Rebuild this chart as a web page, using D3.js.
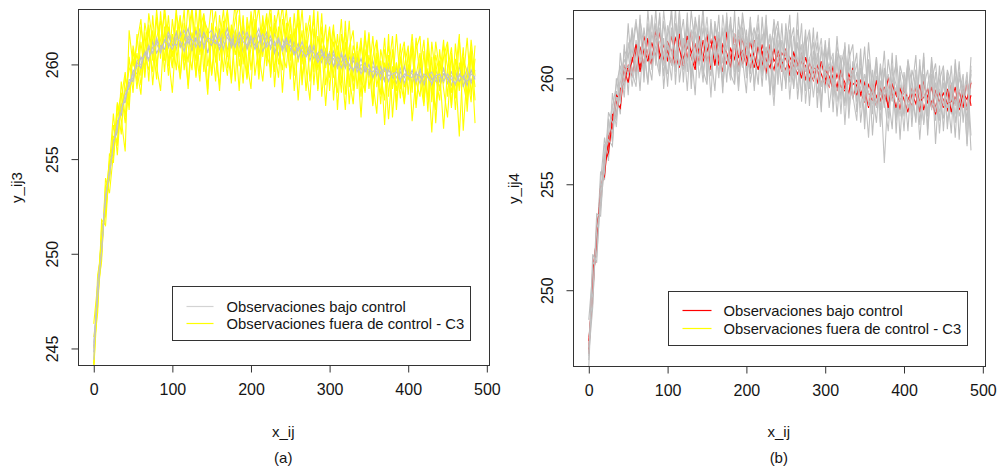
<!DOCTYPE html>
<html>
<head>
<script src="https://d3js.org/d3.v7.min.js"></script>
<style>
  body { margin: 0; background: #fff; }
  svg text { font-family: "Liberation Sans", Arial, sans-serif; fill: #151515; }
</style>
</head>
<body>
<script>
// x positions of the observations (every 5th index)
var xVals = d3.range(0, 486, 5);
var xTicks = [0, 100, 200, 300, 400, 500];

// ---- panel (a): y_ij3 ----
var aTicks = [245, 250, 255, 260];
var aYellow1 = [244.2,248.9,250.1,253.6,253.9,256.8,255.7,259.1,257.2,260.4,
 258.5,261.6,259.4,262.2,260.9,259.6,262.5,260.3,263.1,261.0,
 259.8,262.7,261.4,260.2,263.2,260.7,262.0,259.5,262.6,261.3,
 263.3,260.1,261.9,259.6,262.8,260.9,262.4,263.1,260.0,262.2,
 259.7,261.8,263.0,260.4,262.5,259.3,261.7,262.9,260.6,259.8,
 262.3,260.5,262.8,259.2,261.4,262.6,258.9,261.5,260.2,262.1,
 258.6,261.2,260.0,262.4,258.4,260.9,261.8,258.7,261.1,259.6,
 261.7,257.9,260.6,259.2,261.4,258.3,260.8,257.6,260.3,261.2,
 258.4,260.9,257.9,259.8,261.3,258.1,260.4,256.9,260.2,259.0,
 261.1,257.8,260.3,258.6,260.9,257.5,260.6,258.8];
var aYellow2 = [245.6,247.2,251.4,252.0,255.3,254.8,257.9,256.3,259.4,258.0,
 260.8,258.7,261.2,259.3,261.9,258.9,261.4,262.3,259.6,262.0,
 260.4,263.0,259.2,261.6,260.1,262.9,259.3,261.8,262.7,259.9,
 261.4,259.1,262.6,260.8,259.4,262.1,260.5,261.7,259.0,262.5,
 261.1,263.2,259.6,261.9,260.3,262.7,258.8,261.5,263.1,260.7,
 261.6,259.4,263.3,260.0,262.2,259.1,261.3,258.7,262.0,259.8,
 261.9,259.5,258.5,261.6,259.9,262.3,258.6,260.4,257.2,260.8,
 259.3,261.5,258.8,260.2,256.8,260.5,258.9,261.6,259.1,258.0,
 260.7,258.5,261.4,259.3,257.8,260.6,258.4,261.2,259.6,256.6,
 259.7,260.9,258.2,261.3,259.0,257.9,260.7,256.9];
var aYellow3 = [243.9,247.6,249.9,253.0,254.9,255.1,257.3,258.5,256.9,258.7,
 259.2,260.6,258.9,260.8,262.1,260.2,262.9,260.6,261.7,259.4,
 262.4,260.6,259.3,262.2,261.0,259.7,263.0,260.5,262.1,258.7,
 261.6,262.8,260.2,262.3,259.8,261.2,263.3,259.9,261.5,260.8,
 262.6,259.4,261.0,262.3,259.9,262.0,260.8,259.3,262.4,261.1,
 259.6,262.7,260.1,261.8,258.6,260.9,262.4,259.7,261.0,257.8,
 260.7,259.3,261.6,259.0,261.2,257.9,260.6,259.8,261.4,258.5,
 260.5,259.1,257.4,260.8,259.6,261.0,258.7,260.1,258.2,260.9,
 259.2,261.2,257.7,260.3,258.9,261.0,258.0,260.5,259.4,261.3,
 258.3,260.6,257.6,260.1,259.2,261.4,258.4,260.3];
var aYellow4 = [246.3,248.4,250.9,252.2,254.1,256.2,256.0,257.8,258.6,259.7,
 260.3,259.1,262.0,260.4,259.7,261.8,260.0,261.3,262.7,259.9,
 261.6,259.7,262.4,260.9,258.9,261.7,260.2,262.8,259.6,261.9,
 259.4,261.3,258.6,261.9,260.6,259.2,261.8,260.4,262.6,259.3,
 260.9,262.1,259.2,261.4,262.7,259.5,262.2,260.0,261.4,262.9,
 260.2,261.9,258.1,261.0,260.5,262.1,259.6,262.8,258.3,260.6,
 262.0,258.1,261.0,260.0,257.6,260.9,259.1,261.2,258.9,261.8,
 258.7,260.4,261.3,258.4,260.1,257.1,259.9,258.6,261.1,257.9,
 260.0,258.8,260.8,261.5,258.2,259.8,256.4,260.1,258.6,260.4,
 261.2,258.5,259.7,256.2,260.4,259.5,258.0,261.0];
var aYellow5 = [245.0,246.9,251.8,251.5,254.7,257.4,255.2,258.2,259.6,257.6,
 261.0,259.7,258.4,261.7,259.1,262.6,259.9,258.6,262.0,260.4,
 258.5,261.8,260.9,262.9,258.7,261.2,259.4,263.3,260.6,258.4,
 262.2,260.3,258.9,261.7,262.9,259.0,261.6,258.6,262.3,260.1,
 258.7,262.4,260.6,259.1,261.5,263.2,259.6,262.0,258.5,261.6,
 262.5,258.6,260.8,262.9,259.8,258.1,261.9,260.0,262.7,258.9,
 260.5,262.1,257.6,260.6,261.7,259.3,257.9,260.7,258.3,261.5,
 260.0,257.8,261.2,259.5,258.1,261.6,257.2,260.1,258.7,259.9,
 261.0,257.0,259.4,260.6,258.0,261.4,259.2,257.6,260.8,258.7,
 257.2,260.3,259.5,261.6,256.5,259.6,260.9,258.1];
var aYellow6 = [244.0,248.1,249.6,254.0,253.2,255.3,258.0,257.1,255.4,261.8,
 259.9,261.1,262.4,259.6,262.7,261.2,259.2,262.8,260.2,262.6,
 259.9,261.3,262.6,259.7,261.6,263.0,260.8,259.1,262.4,261.8,
 259.5,262.0,261.2,262.9,260.4,261.9,259.1,262.6,260.9,259.2,
 262.8,261.2,259.9,262.6,260.5,259.8,262.6,261.0,259.7,262.2,
 259.2,261.5,262.2,258.9,261.3,260.4,262.9,258.6,261.4,260.7,
 259.3,261.8,260.6,258.5,262.3,258.8,261.0,260.1,259.2,258.6,
 261.6,259.2,260.3,257.9,260.8,259.7,261.5,258.0,260.4,258.8,
 259.5,261.6,259.1,258.3,260.7,257.5,261.2,259.3,258.1,261.0,
 259.9,257.7,261.1,258.9,260.2,258.3,261.3,259.4];
var aGray1 = [244.8,248.2,250.8,252.4,254.6,255.4,257.0,257.3,258.6,258.7,
 259.7,259.5,260.4,259.9,260.9,260.5,261.3,260.7,261.6,260.9,
 261.5,260.8,261.7,261.0,261.4,260.7,261.8,261.1,261.5,260.6,
 261.6,260.9,261.8,261.2,260.8,261.7,261.0,261.4,260.7,261.5,
 260.9,261.6,260.6,261.3,261.7,260.8,261.2,260.5,261.4,260.7,
 261.3,260.6,261.1,260.4,261.0,260.2,260.9,260.5,260.1,260.8,
 260.2,260.7,259.9,260.5,259.8,260.4,259.6,260.3,259.7,260.1,
 259.5,260.2,259.4,259.9,259.2,260.0,259.3,259.8,259.1,259.9,
 259.2,259.7,259.0,259.8,259.3,259.6,258.9,259.7,259.1,259.8,
 259.0,259.6,259.2,259.9,258.8,259.5,259.1,259.7];
var aGray2 = [245.1,247.7,250.3,252.9,254.0,256.0,256.4,257.9,258.0,259.2,
 259.1,260.1,259.8,260.7,260.2,261.2,260.6,261.0,260.8,261.5,
 261.0,261.7,260.9,261.3,261.9,261.0,261.4,260.9,261.7,261.2,
 261.0,261.6,260.8,261.4,261.9,260.9,261.5,261.1,261.8,260.8,
 261.4,261.0,261.6,260.7,261.1,261.5,260.6,261.3,260.9,261.4,
 260.7,261.2,260.3,260.9,260.6,261.0,260.3,260.6,260.8,260.2,
 260.6,259.9,260.4,260.1,260.5,259.7,260.2,259.8,260.3,259.6,
 260.0,259.3,259.8,259.6,259.1,259.7,259.4,259.0,259.6,259.3,
 259.8,259.0,259.5,259.4,258.9,259.6,259.2,259.4,258.8,259.5,
 259.3,258.9,259.6,259.1,259.4,258.9,259.7,259.2];
var aGray3 = [244.4,248.5,250.1,253.1,254.2,255.8,256.9,257.5,258.4,258.8,
 259.6,259.9,260.0,260.6,260.3,260.9,261.1,260.6,261.3,261.1,
 260.8,261.4,261.2,260.7,261.5,261.3,260.9,261.6,261.0,261.4,
 261.3,261.1,261.5,260.8,261.6,261.3,260.9,261.7,261.2,261.0,
 261.5,260.8,261.2,261.6,260.9,261.3,261.0,261.4,260.8,261.1,
 261.0,260.5,260.9,260.7,260.4,260.8,260.6,260.1,260.5,260.4,
 260.0,260.5,260.2,259.8,260.3,260.0,259.7,260.1,259.5,259.9,
 259.7,259.6,259.9,259.2,259.8,259.4,259.5,259.6,259.2,259.5,
 259.4,259.3,259.6,259.0,259.5,259.3,259.0,259.4,259.5,259.1,
 259.5,259.2,259.0,259.4,259.3,259.1,259.5,259.3];
var aGray4 = [245.3,247.9,250.9,252.7,254.4,255.9,256.5,257.8,258.1,259.0,
 259.3,260.2,260.3,260.4,261.0,260.6,261.4,260.8,261.2,261.7,
 261.2,261.0,261.5,261.8,261.1,261.6,261.2,261.9,260.8,261.6,
 261.8,261.2,261.0,261.7,261.4,261.1,261.8,260.9,261.4,261.7,
 261.1,261.4,261.9,261.0,261.5,260.9,261.6,261.2,260.7,261.3,
 260.8,261.0,260.7,261.2,260.5,260.6,261.0,260.3,260.7,260.0,
 260.4,260.3,259.8,260.6,260.0,259.9,260.4,259.6,260.0,259.8,
 259.4,259.9,259.6,259.5,259.9,259.1,259.7,259.3,259.8,259.0,
 259.6,259.5,259.1,259.7,259.0,259.4,259.6,259.1,259.3,259.7,
 259.2,259.4,258.9,259.5,259.2,259.8,259.0,259.4];

// ---- panel (b): y_ij4 ----
var bTicks = [250, 255, 260];
var bGray1 = [246.4,250.6,252.0,255.6,255.2,258.1,257.0,259.4,258.3,261.6,
 259.2,262.4,260.0,263.0,259.8,262.6,260.5,263.3,260.2,262.7,
 260.9,263.4,259.7,262.5,260.4,263.1,259.5,262.2,261.0,263.4,
 259.9,262.8,260.6,262.0,259.3,262.9,260.1,263.2,259.6,262.4,
 260.3,262.9,259.4,262.1,260.7,263.0,259.2,261.9,260.0,262.6,
 259.5,262.3,260.1,263.1,258.9,261.8,259.7,262.4,258.6,261.5,
 259.3,261.9,258.4,261.2,259.0,261.7,258.1,260.8,258.9,261.4,
 257.6,260.9,258.3,261.0,257.9,260.5,258.5,261.2,257.4,260.3,
 258.2,260.8,257.7,260.4,258.4,261.0,257.3,260.2,258.0,260.6,
 257.5,260.1,258.3,260.7,257.1,260.0,256.8,260.4];
var bGray2 = [247.8,249.4,253.1,254.0,256.9,256.3,258.6,259.7,260.6,259.1,
 261.7,260.3,259.6,262.1,261.3,259.8,262.9,261.0,260.1,263.2,
 261.4,259.9,262.6,260.6,261.9,259.4,262.3,260.8,263.0,260.2,
 261.7,259.1,262.5,261.2,259.8,263.1,260.5,261.6,259.4,262.0,
 261.1,262.8,259.6,261.4,260.2,262.7,260.9,258.7,261.8,260.3,
 262.2,259.0,261.3,260.4,262.6,258.8,260.9,261.7,259.3,260.5,
 261.6,258.6,260.2,259.4,261.1,257.8,260.7,259.2,258.0,260.9,
 259.6,257.2,260.4,258.7,259.9,256.0,259.5,260.6,258.3,259.7,
 257.5,260.5,259.0,258.1,260.9,257.8,259.6,258.7,260.3,257.4,
 259.8,258.6,260.6,257.9,259.3,260.2,256.9,259.9];
var bGray3 = [246.9,251.2,251.6,254.3,256.5,257.4,258.8,257.7,260.2,260.9,
 260.1,261.5,262.8,260.7,261.6,262.2,260.4,262.0,261.7,260.6,
 262.5,261.2,260.3,262.8,261.5,260.8,261.9,262.7,260.0,261.3,
 262.9,260.6,261.8,260.2,262.4,261.0,259.9,262.1,261.3,260.5,
 262.0,260.8,261.5,263.0,260.1,261.2,262.0,259.8,260.9,261.7,
 260.0,262.1,260.7,259.5,261.6,260.3,261.0,259.1,260.8,261.9,
 259.4,260.6,261.2,258.9,260.1,260.8,258.5,259.9,260.7,258.6,
 260.2,259.3,258.8,260.6,257.7,259.4,260.2,258.9,259.6,258.2,
 260.1,259.0,258.6,260.4,259.2,257.9,259.7,260.5,258.4,259.5,
 258.7,260.3,259.1,258.3,260.0,259.4,257.6,260.6];
var bGray4 = [247.3,249.9,252.8,253.9,255.9,257.9,257.4,259.1,259.0,260.3,
 261.2,259.6,261.0,262.3,260.4,261.1,263.0,260.6,262.4,261.1,
 260.2,262.4,261.0,263.2,260.6,261.8,260.1,262.2,261.4,262.9,
 260.4,262.3,261.7,260.0,263.0,261.3,262.6,260.3,261.9,262.8,
 260.0,261.7,262.4,260.6,262.1,259.9,261.3,262.5,259.7,261.8,
 261.2,259.8,262.0,260.9,259.2,261.5,262.3,259.9,261.2,259.6,
 260.4,261.7,259.1,260.9,258.3,261.3,259.7,260.4,259.3,261.0,
 258.1,260.8,259.8,258.6,260.7,259.0,257.5,260.3,259.7,258.9,
 259.4,260.8,258.2,259.9,257.1,259.6,260.4,258.5,259.8,258.0,
 260.5,257.9,259.3,260.1,258.2,259.0,260.3,257.3];
var bGray5 = [248.6,250.9,252.4,255.1,257.2,256.1,259.3,258.0,261.2,259.5,
 262.6,260.0,261.8,259.4,262.4,260.9,259.9,262.6,260.3,261.9,
 259.6,262.3,260.9,263.1,259.8,262.5,261.3,259.2,262.7,260.4,
 259.7,262.6,260.9,263.0,259.6,261.4,262.9,259.8,262.3,260.9,
 259.3,262.5,261.1,259.7,262.9,260.5,262.1,259.2,262.4,260.6,
 259.8,261.6,262.4,259.0,261.0,262.0,258.7,261.3,260.6,258.4,
 261.8,259.6,261.0,258.2,260.6,261.5,258.8,260.2,261.2,257.9,
 259.7,260.8,257.3,260.1,259.2,261.3,258.1,259.8,260.7,257.1,
 260.3,258.6,259.4,261.1,257.8,260.2,258.3,260.8,256.9,259.9,
 260.6,257.6,259.8,258.7,260.8,257.9,260.1,256.6];
var bGray6 = [246.7,251.7,251.3,254.8,255.6,258.4,257.9,258.2,259.8,260.6,
 260.5,261.1,262.6,261.3,260.2,263.2,260.9,261.5,262.9,260.1,
 262.1,263.0,260.5,261.6,262.8,260.3,263.2,261.4,260.6,262.4,
 261.0,260.1,262.7,261.5,262.2,259.8,262.5,261.9,260.3,263.1,
 261.6,260.2,262.3,261.8,259.6,262.4,260.7,262.8,261.2,259.4,
 262.6,260.8,259.6,262.3,261.1,259.4,262.2,260.4,261.7,259.7,
 260.1,261.4,259.2,262.0,259.6,258.9,261.6,259.0,260.3,259.4,
 261.5,258.7,259.5,261.0,258.5,260.4,259.2,257.6,261.1,259.0,
 258.3,260.9,259.7,257.9,260.6,259.4,258.2,261.0,259.1,258.4,
 260.1,259.3,257.4,260.9,258.6,259.7,258.0,261.0];
var bGray7 = [247.0,249.2,253.6,253.5,256.4,257.1,256.8,260.0,258.8,261.3,
 261.0,262.3,259.9,262.8,261.5,259.7,262.2,260.8,263.1,259.5,
 261.7,260.6,263.3,259.8,261.4,262.6,260.0,262.9,261.7,259.8,
 262.4,261.2,259.4,262.2,260.7,262.7,260.2,259.7,262.9,261.0,
 262.3,259.8,261.0,262.6,260.3,261.5,259.3,261.9,262.7,260.8,
 261.1,263.0,259.5,261.7,260.2,262.3,259.5,260.9,262.2,258.8,
 261.2,260.5,259.7,261.5,260.7,258.7,260.9,261.6,258.4,260.5,
 258.9,261.7,259.4,257.9,260.5,258.6,260.9,259.5,258.0,260.6,
 259.8,257.5,260.4,259.6,258.7,261.2,257.6,259.9,260.7,258.8,
 258.1,260.4,259.7,257.2,260.3,259.2,258.5,260.2];
var bRed1 = [247.2,250.3,252.2,254.9,255.4,257.3,257.6,258.9,258.6,260.4,
 259.8,261.0,260.2,261.5,260.6,261.9,260.7,262.1,260.9,261.6,
 260.8,262.0,261.1,260.5,261.8,260.9,262.2,260.6,261.5,261.0,
 262.1,260.4,261.7,261.0,260.3,262.2,260.9,261.6,260.5,261.9,
 261.0,260.4,261.8,260.7,261.3,260.2,261.6,260.8,261.1,260.3,
 261.4,260.1,260.9,260.5,261.2,259.9,260.7,260.3,259.8,260.8,
 260.0,259.6,260.6,259.4,260.2,259.8,259.3,260.5,259.2,259.9,
 259.5,258.6,259.8,259.1,259.6,258.8,260.1,259.0,259.4,258.5,
 259.7,258.9,259.5,259.2,258.4,259.9,258.8,259.6,258.6,259.3,
 259.0,258.5,259.7,258.8,259.4,258.6,259.9,258.7];
var bRed2 = [247.6,249.8,252.9,254.2,256.2,256.8,258.3,258.2,259.5,259.8,
 260.6,260.1,261.4,260.5,262.0,261.1,260.6,262.3,261.2,260.7,
 261.7,261.3,260.6,262.1,260.9,261.5,261.0,260.4,262.0,260.8,
 261.3,261.8,260.6,262.0,261.2,260.7,261.4,260.9,262.0,260.6,
 261.6,261.1,260.5,261.5,260.6,261.4,260.9,260.4,261.3,260.8,
 260.4,261.0,260.6,260.2,260.8,260.6,259.9,260.5,260.4,259.7,
 260.4,260.1,259.5,260.2,259.6,259.4,260.0,259.1,259.7,259.3,
 258.9,259.7,259.3,258.7,259.5,259.2,258.8,259.3,258.6,259.5,
 259.0,258.4,259.3,258.8,259.7,258.5,259.2,258.9,258.3,259.4,
 258.6,259.5,258.4,259.1,258.8,259.6,258.5,259.2];
var bRed3 = [247.0,250.8,252.5,254.5,256.0,256.5,258.0,259.2,259.0,260.6,
 260.3,260.8,261.6,260.3,261.4,260.8,261.7,261.0,262.2,260.9,
 261.3,260.7,261.9,261.4,260.6,262.0,261.2,261.6,260.7,261.8,
 260.8,261.5,262.0,260.6,261.6,261.2,260.5,262.1,261.0,261.3,
 260.6,261.7,261.0,260.4,261.6,260.9,260.5,261.4,260.6,261.2,
 260.9,260.5,261.2,260.7,260.0,261.0,260.3,259.9,260.6,260.2,
 259.7,260.5,260.0,259.6,260.4,259.5,260.2,259.7,259.9,259.2,
 259.8,259.3,258.9,259.9,258.9,259.6,258.6,259.7,259.2,258.9,
 259.4,259.1,258.7,259.6,258.9,259.1,259.5,258.6,259.4,258.9,
 259.3,258.8,258.9,259.6,258.5,259.3,259.0,259.8];

var legendLabels = ["Observaciones bajo control", "Observaciones fuera de control - C3"];

var svg = d3.select("body").append("svg")
  .attr("width", 999).attr("height", 468);

function drawPanel(p) {
  var x = d3.scaleLinear().domain([-19.4, 503.4]).range([p.left, p.right]);
  var y = d3.scaleLinear().domain(p.yDomain).range([p.bottom, p.top]);
  var g = svg.append("g");

  g.append("clipPath").attr("id", p.id + "clip")
    .append("rect").attr("x", p.left).attr("y", p.top)
    .attr("width", p.right - p.left).attr("height", p.bottom - p.top);

  var line = d3.line()
    .x(function(d, i) { return x(xVals[i]); })
    .y(function(d) { return y(d); });

  var lines = g.append("g").attr("clip-path", "url(#" + p.id + "clip)");
  p.layers.forEach(function(s) {
    lines.append("path")
      .attr("d", line(s.data))
      .attr("fill", "none")
      .attr("stroke", s.color)
      .attr("stroke-width", 1.1);
  });

  // box
  g.append("rect").attr("x", p.left).attr("y", p.top)
    .attr("width", p.right - p.left).attr("height", p.bottom - p.top)
    .attr("fill", "none").attr("stroke", "#333").attr("stroke-width", 1);

  // x axis
  var xa = g.append("g").attr("transform", "translate(0," + p.bottom + ")")
    .call(d3.axisBottom(x).tickValues(xTicks).tickSize(7).tickPadding(11));
  xa.select(".domain").attr("d", "M" + x(0) + ",0H" + x(500)).attr("stroke", "#333");
  xa.selectAll("line").attr("stroke", "#333");
  xa.selectAll("text").style("font-size", "16px")
    .style("font-family", "'Liberation Sans', Arial, sans-serif").attr("fill", "#151515");

  // y axis with rotated labels
  var ya = g.append("g").attr("transform", "translate(" + p.left + ",0)")
    .call(d3.axisLeft(y).tickValues(p.ticks).tickSize(7));
  ya.select(".domain").attr("d", "M0," + y(p.ticks[0]) + "V" + y(p.ticks[p.ticks.length - 1])).attr("stroke", "#333");
  ya.selectAll("line").attr("stroke", "#333");
  ya.selectAll("text")
    .attr("x", null).attr("dy", null)
    .attr("transform", "translate(-26,0) rotate(-90)")
    .style("text-anchor", "middle")
    .attr("y", 5)
    .style("font-size", "16px")
    .style("font-family", "'Liberation Sans', Arial, sans-serif").attr("fill", "#151515");

  // axis titles
  var cx = (x(0) + x(500)) / 2 - 7;
  g.append("text").attr("x", cx).attr("y", 437)
    .attr("text-anchor", "middle").style("font-size", "15px").text("x_ij");
  g.append("text")
    .attr("transform", "translate(" + p.ylabX + "," + ((p.top + p.bottom) / 2) + ") rotate(-90)")
    .attr("text-anchor", "middle").style("font-size", "15px").text(p.ylab);
  g.append("text").attr("x", cx).attr("y", 463)
    .attr("text-anchor", "middle").style("font-size", "15px").text(p.caption);

  // legend
  var lg = g.append("g").attr("transform", "translate(" + p.leg[0] + "," + p.leg[1] + ")");
  lg.append("rect").attr("width", p.leg[2]).attr("height", p.leg[3])
    .attr("fill", "#fff").attr("stroke", "#333");
  legendLabels.forEach(function(t, i) {
    var yy = p.legRow0 + i * p.legStep;
    lg.append("line").attr("x1", p.legLine[0]).attr("x2", p.legLine[1])
      .attr("y1", yy).attr("y2", yy).attr("stroke", p.legColors[i]).attr("stroke-width", 1.2);
    lg.append("text").attr("x", p.legText).attr("y", yy + 5)
      .style("font-size", "14.8px").text(t);
  });
}

drawPanel({
  id: "a", left: 78.5, right: 489.5, top: 9.5, bottom: 365.5,
  yDomain: [244.1, 262.9], ticks: aTicks, ylab: "y_ij3", ylabX: 22, caption: "(a)",
  layers: [
    {data: aYellow1, color: "#ffff00"},
    {data: aYellow2, color: "#ffff00"},
    {data: aYellow5, color: "#ffff00"},
    {data: aGray1, color: "#bebebe"},
    {data: aYellow3, color: "#ffff00"},
    {data: aYellow6, color: "#ffff00"},
    {data: aGray2, color: "#bebebe"},
    {data: aGray4, color: "#c4c4c4"},
    {data: aYellow4, color: "#ffff00"},
    {data: aGray3, color: "#c4c4c4"}
  ],
  leg: [172.5, 286.5, 298, 54], legRow0: 20, legStep: 17,
  legLine: [14, 41], legText: 54, legColors: ["#d3d3d3", "#ffff00"]
});

drawPanel({
  id: "b", left: 573.5, right: 985.5, top: 10.5, bottom: 366.5,
  yDomain: [246.4, 263.2], ticks: bTicks, ylab: "y_ij4", ylabX: 519, caption: "(b)",
  layers: [
    {data: bGray1, color: "#bebebe"},
    {data: bRed1, color: "#ff0000"},
    {data: bGray2, color: "#c2c2c2"},
    {data: bRed2, color: "#ff0000"},
    {data: bGray5, color: "#bebebe"},
    {data: bRed3, color: "#ff0000"},
    {data: bGray3, color: "#c6c6c6"},
    {data: bGray6, color: "#bebebe"},
    {data: bGray4, color: "#c2c2c2"},
    {data: bGray7, color: "#bebebe"}
  ],
  leg: [668.5, 291.5, 299, 54], legRow0: 19, legStep: 18,
  legLine: [14, 43], legText: 55, legColors: ["#ff0000", "#ffff00"]
});
</script>
</body>
</html>
